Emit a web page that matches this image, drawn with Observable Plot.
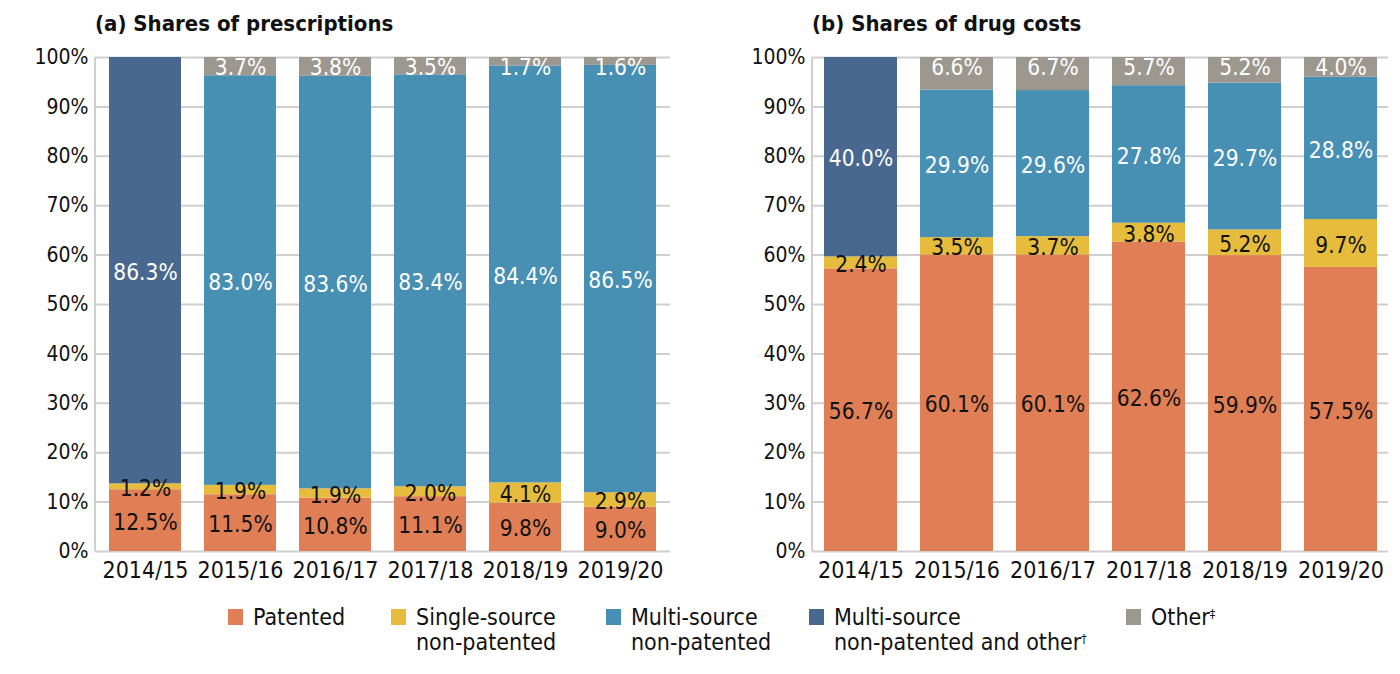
<!DOCTYPE html>
<html>
<head>
<meta charset="utf-8">
<script src="https://cdn.jsdelivr.net/npm/d3@7"></script>
<script src="https://cdn.jsdelivr.net/npm/@observablehq/plot@0.6"></script>
<style>
  html, body { margin: 0; padding: 0; background: #fff; }
  body { width: 1400px; height: 674px; position: relative; overflow: hidden;
         font-family: "DejaVu Sans Condensed", "DejaVu Sans", sans-serif; color: #111; }
  .title { position: absolute; top: 11px; font-weight: bold; font-size: 22px; }
  .panel { position: absolute; top: 40px; }
  .legend-item { position: absolute; top: 605px; display: flex; align-items: flex-start; font-size: 23px; line-height: 25px; }
  .sw { width: 15px; height: 16px; margin-right: 10px; margin-top: 4px; flex: none; }
  sup { font-size: 12px; vertical-align: top; position: relative; top: -3px; }
</style>
</head>
<body>
<div class="title" style="left:95px">(a) Shares of prescriptions</div>
<div class="title" style="left:812px">(b) Shares of drug costs</div>
<div class="panel" id="pa" style="left:0px"></div>
<div class="panel" id="pb" style="left:700px"></div>
<div id="legend"></div>
<script>
const years = ["2014/15", "2015/16", "2016/17", "2017/18", "2018/19", "2019/20"];
const categories = ["Patented", "Single-source non-patented", "Multi-source non-patented", "Multi-source non-patented and other", "Other"];
const colors = ["#E07E55", "#E5BC3C", "#478FB3", "#49688F", "#9C9890"];
const labelColors = ["#111", "#111", "#fff", "#fff", "#fff"];
const legendLabels = [["Patented"], ["Single-source", "non-patented"], ["Multi-source", "non-patented"], ["Multi-source", "non-patented and other†"], ["Other‡"]];
const yTicks = [0, 0.1, 0.2, 0.3, 0.4, 0.5, 0.6, 0.7, 0.8, 0.9, 1];

// Shares of prescriptions (%), per year, in category order (null = not reported)
const rxPatented   = [12.5, 11.5, 10.8, 11.1, 9.8, 9.0];
const rxSingle     = [1.2, 1.9, 1.9, 2.0, 4.1, 2.9];
const rxMulti      = [null, 83.0, 83.6, 83.4, 84.4, 86.5];
const rxMultiOther = [86.3, null, null, null, null, null];
const rxOther      = [null, 3.7, 3.8, 3.5, 1.7, 1.6];

// Shares of drug costs (%)
const costPatented   = [56.7, 60.1, 60.1, 62.6, 59.9, 57.5];
const costSingle     = [2.4, 3.5, 3.7, 3.8, 5.2, 9.7];
const costMulti      = [null, 29.9, 29.6, 27.8, 29.7, 28.8];
const costMultiOther = [40.0, null, null, null, null, null];
const costOther      = [null, 6.6, 6.7, 5.7, 5.2, 4.0];

function table(series) {
  const rows = [];
  series.forEach((vals, ci) => {
    vals.forEach((v, yi) => {
      if (v != null) rows.push({year: years[yi], cat: categories[ci], value: v, label: v.toFixed(1) + "%", lc: labelColors[ci]});
    });
  });
  return rows;
}

const rx = table([rxPatented, rxSingle, rxMulti, rxMultiOther, rxOther]);
const cost = table([costPatented, costSingle, costMulti, costMultiOther, costOther]);

const FONT = '"DejaVu Sans Condensed", "DejaVu Sans", sans-serif';
const isOther = (d) => d.cat === "Other";

function chart(data, ml, mr) {
  const axisLines = (index, scales, values, dims) => {
    const g = d3.create("svg:g").attr("stroke", "#cfcfcf").attr("stroke-width", 2);
    g.append("line").attr("x1", dims.marginLeft).attr("x2", dims.marginLeft)
      .attr("y1", scales.y(1)).attr("y2", scales.y(0));
    return g.node();
  };
  const stackOpts = {offset: "normalize", x: "year", y: "value", z: "cat", order: categories};
  return Plot.plot({
    width: 700,
    height: 555,
    marginTop: 17,
    marginBottom: 44,
    marginLeft: ml,
    marginRight: mr,
    style: {fontFamily: FONT, color: "#111", background: "transparent"},
    x: {domain: years, paddingInner: 0.24, paddingOuter: 0.12, label: null},
    y: {domain: [0, 1], label: null},
    color: {domain: categories, range: colors},
    marks: [
      Plot.gridY(yTicks, {stroke: "#cfcfcf", strokeOpacity: 1, strokeWidth: 2}),
      axisLines,
      Plot.barY(data, Plot.stackY({...stackOpts, fill: "cat"})),
      Plot.text(data, Plot.stackY({...stackOpts,
        text: (d) => isOther(d) ? "" : d.label, fill: "lc", fontSize: 22.5, dy: 2})),
      Plot.text(data, Plot.stackY2({...stackOpts,
        text: (d) => isOther(d) ? d.label : "", fill: "lc", fontSize: 22.5, lineAnchor: "top", dy: 2})),
      Plot.axisX({tickSize: 0, tickPadding: 10, fontSize: 23, label: null}),
      Plot.axisY({ticks: yTicks, tickSize: 0, tickPadding: 7, fontSize: 21, tickFormat: d3.format(".0%"), label: null})
    ]
  });
}

document.getElementById("pa").append(chart(rx, 95, 30));
document.getElementById("pb").append(chart(cost, 112, 12));

const legendX = [228, 391, 606, 809, 1126];
const lg = document.getElementById("legend");
categories.forEach((c, i) => {
  const item = document.createElement("div");
  item.className = "legend-item";
  item.style.left = legendX[i] + "px";
  const sw = document.createElement("div");
  sw.className = "sw";
  sw.style.background = colors[i];
  const txt = document.createElement("div");
  txt.innerHTML = legendLabels[i].map(s => s.replace(/([†‡])/, "<sup>$1</sup>")).join("<br>");
  item.append(sw, txt);
  lg.append(item);
});
</script>
</body>
</html>
